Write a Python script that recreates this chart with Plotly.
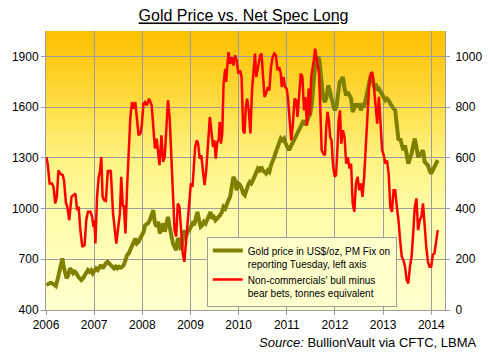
import plotly.graph_objects as go

# ---------------- data ----------------
gold_years = [
    2006.007, 2006.055, 2006.102, 2006.157, 2006.204, 2006.238, 2006.279, 2006.313, 2006.340, 2006.367,
    2006.394, 2006.428, 2006.462, 2006.496, 2006.530, 2006.564, 2006.598, 2006.632, 2006.666, 2006.700,
    2006.734, 2006.768, 2006.802, 2006.836, 2006.870, 2006.903, 2006.937, 2006.971, 2007.005, 2007.039,
    2007.073, 2007.107, 2007.141, 2007.175, 2007.209, 2007.243, 2007.277, 2007.311, 2007.345, 2007.379,
    2007.413, 2007.447, 2007.480, 2007.514, 2007.548, 2007.582, 2007.616, 2007.650, 2007.684, 2007.718,
    2007.752, 2007.786, 2007.820, 2007.854, 2007.888, 2007.922, 2007.955, 2007.990, 2008.024, 2008.058,
    2008.092, 2008.126, 2008.160, 2008.194, 2008.228, 2008.262, 2008.296, 2008.329, 2008.363, 2008.397,
    2008.431, 2008.465, 2008.499, 2008.533, 2008.567, 2008.601, 2008.635, 2008.669, 2008.703, 2008.737,
    2008.771, 2008.805, 2008.839, 2008.873, 2008.907, 2008.940, 2008.974, 2009.008, 2009.042, 2009.076,
    2009.110, 2009.144, 2009.178, 2009.212, 2009.246, 2009.280, 2009.314, 2009.348, 2009.382, 2009.416,
    2009.450, 2009.484, 2009.518, 2009.551, 2009.585, 2009.619, 2009.653, 2009.687, 2009.721, 2009.755,
    2009.789, 2009.823, 2009.857, 2009.891, 2009.925, 2009.959, 2009.993, 2010.027, 2010.061, 2010.095,
    2010.129, 2010.163, 2010.197, 2010.231, 2010.264, 2010.298, 2010.332, 2010.366, 2010.400, 2010.434,
    2010.468, 2010.502, 2010.536, 2010.570, 2010.604, 2010.638, 2010.672, 2010.706, 2010.740, 2010.774,
    2010.808, 2010.842, 2010.876, 2010.910, 2010.944, 2010.977, 2011.011, 2011.045, 2011.079, 2011.113,
    2011.147, 2011.181, 2011.215, 2011.249, 2011.283, 2011.317, 2011.351, 2011.385, 2011.419, 2011.453,
    2011.487, 2011.521, 2011.555, 2011.588, 2011.622, 2011.656, 2011.677, 2011.704, 2011.724, 2011.758,
    2011.792, 2011.826, 2011.860, 2011.894, 2011.928, 2011.962, 2011.996, 2012.030, 2012.064, 2012.097,
    2012.131, 2012.165, 2012.199, 2012.233, 2012.267, 2012.301, 2012.335, 2012.368, 2012.402, 2012.436,
    2012.470, 2012.504, 2012.538, 2012.572, 2012.606, 2012.640, 2012.674, 2012.708, 2012.742, 2012.776,
    2012.810, 2012.844, 2012.878, 2012.912, 2012.946, 2012.980, 2013.014, 2013.047, 2013.081, 2013.115,
    2013.149, 2013.183, 2013.217, 2013.251, 2013.285, 2013.319, 2013.353, 2013.387, 2013.421, 2013.455,
    2013.489, 2013.523, 2013.557, 2013.591, 2013.625, 2013.658, 2013.692, 2013.726, 2013.760, 2013.794,
    2013.828, 2013.862, 2013.896, 2013.930, 2013.964, 2013.998, 2014.032, 2014.066, 2014.100, 2014.134,
]
gold_usd = [
    548, 557, 561, 553, 542, 577, 636, 676, 705, 656,
    617, 587, 607, 646, 636, 617, 626, 617, 597, 587,
    577, 587, 607, 626, 636, 626, 636, 617, 636, 646,
    636, 656, 666, 646, 666, 676, 685, 676, 660, 656,
    646, 656, 646, 656, 650, 656, 666, 695, 725, 735,
    754, 774, 803, 823, 794, 803, 823, 840, 860, 900,
    905, 915, 935, 960, 990, 912, 893, 922, 853, 882,
    912, 863, 922, 951, 893, 833, 794, 774, 754, 823,
    813, 754, 813, 872, 833, 863, 872, 893, 912, 902,
    951, 980, 931, 893, 902, 922, 912, 931, 961, 980,
    941, 951, 931, 941, 951, 961, 980, 1010, 1000, 1030,
    1050, 1069, 1128, 1187, 1167, 1108, 1148, 1140, 1120, 1089,
    1079, 1118, 1138, 1157, 1148, 1168, 1187, 1217, 1236, 1226,
    1246, 1226, 1217, 1207, 1226, 1217, 1256, 1276, 1305, 1335,
    1364, 1394, 1414, 1404, 1414, 1384, 1364, 1345, 1364, 1384,
    1404, 1424, 1443, 1453, 1473, 1502, 1522, 1493, 1522, 1541,
    1561, 1620, 1739, 1837, 1876, 1896, 1876, 1778, 1699, 1650,
    1630, 1659, 1728, 1699, 1650, 1620, 1581, 1600, 1700, 1748,
    1758, 1778, 1709, 1669, 1689, 1669, 1650, 1571, 1591, 1620,
    1600, 1620, 1581, 1610, 1600, 1650, 1719, 1758, 1788, 1778,
    1719, 1739, 1699, 1709, 1689, 1679, 1650, 1640, 1650, 1640,
    1620, 1600, 1591, 1581, 1483, 1404, 1414, 1384, 1345, 1374,
    1305, 1266, 1296, 1325, 1374, 1414, 1364, 1305, 1315, 1335,
    1345, 1276, 1266, 1256, 1227, 1207, 1227, 1246, 1256, 1286,
]

spec_years = [
    2006.007, 2006.034, 2006.075, 2006.123, 2006.157, 2006.191, 2006.225, 2006.258, 2006.292, 2006.347,
    2006.374, 2006.415, 2006.442, 2006.483, 2006.530, 2006.578, 2006.612, 2006.645, 2006.679, 2006.713,
    2006.754, 2006.802, 2006.836, 2006.870, 2006.924, 2006.958, 2006.985, 2007.005, 2007.026, 2007.060,
    2007.094, 2007.121, 2007.148, 2007.175, 2007.209, 2007.243, 2007.284, 2007.311, 2007.345, 2007.392,
    2007.426, 2007.460, 2007.501, 2007.535, 2007.562, 2007.596, 2007.616, 2007.650, 2007.684, 2007.718,
    2007.752, 2007.786, 2007.820, 2007.854, 2007.888, 2007.922, 2007.962, 2007.990, 2008.024, 2008.058,
    2008.092, 2008.139, 2008.194, 2008.228, 2008.262, 2008.296, 2008.329, 2008.357, 2008.397, 2008.431,
    2008.465, 2008.499, 2008.533, 2008.567, 2008.601, 2008.635, 2008.669, 2008.703, 2008.737, 2008.771,
    2008.805, 2008.839, 2008.873, 2008.907, 2008.940, 2008.974, 2009.008, 2009.042, 2009.063, 2009.097,
    2009.131, 2009.158, 2009.192, 2009.226, 2009.260, 2009.293, 2009.327, 2009.361, 2009.402, 2009.436,
    2009.470, 2009.497, 2009.524, 2009.558, 2009.585, 2009.606, 2009.633, 2009.660, 2009.687, 2009.721,
    2009.742, 2009.769, 2009.789, 2009.823, 2009.857, 2009.891, 2009.925, 2009.959, 2009.993, 2010.027,
    2010.061, 2010.095, 2010.122, 2010.149, 2010.176, 2010.210, 2010.244, 2010.278, 2010.312, 2010.339,
    2010.366, 2010.394, 2010.421, 2010.448, 2010.475, 2010.502, 2010.536, 2010.570, 2010.604, 2010.638,
    2010.672, 2010.706, 2010.740, 2010.774, 2010.808, 2010.842, 2010.876, 2010.896, 2010.930, 2010.964,
    2010.998, 2011.025, 2011.059, 2011.093, 2011.127, 2011.161, 2011.195, 2011.222, 2011.256, 2011.290,
    2011.324, 2011.358, 2011.385, 2011.419, 2011.453, 2011.480, 2011.507, 2011.534, 2011.561, 2011.588,
    2011.616, 2011.643, 2011.670, 2011.697, 2011.724, 2011.758, 2011.792, 2011.819, 2011.846, 2011.873,
    2011.901, 2011.928, 2011.962, 2011.996, 2012.023, 2012.050, 2012.077, 2012.104, 2012.131, 2012.165,
    2012.199, 2012.233, 2012.267, 2012.301, 2012.335, 2012.368, 2012.402, 2012.436, 2012.470, 2012.504,
    2012.538, 2012.572, 2012.606, 2012.640, 2012.674, 2012.708, 2012.742, 2012.776, 2012.810, 2012.844,
    2012.878, 2012.912, 2012.946, 2012.980, 2013.014, 2013.047, 2013.081, 2013.115, 2013.149, 2013.183,
    2013.217, 2013.251, 2013.285, 2013.319, 2013.353, 2013.387, 2013.421, 2013.455, 2013.489, 2013.523,
    2013.557, 2013.591, 2013.625, 2013.658, 2013.692, 2013.726, 2013.760, 2013.794, 2013.828, 2013.862,
    2013.896, 2013.930, 2013.964, 2013.998, 2014.032, 2014.066, 2014.100, 2014.134,
]
spec_tonnes = [
    603, 577, 499, 499, 485, 420, 446, 551, 538, 532,
    512, 420, 407, 354, 446, 453, 459, 394, 407, 315,
    249, 256, 354, 387, 387, 367, 328, 354, 262, 446,
    525, 545, 603, 446, 433, 430, 551, 545, 551, 381,
    315, 262, 328, 381, 525, 407, 413, 302, 485, 617,
    761, 820, 794, 820, 748, 689, 696, 730, 814, 820,
    807, 833, 807, 735, 637, 676, 630, 571, 689, 584,
    603, 741, 827, 761, 630, 459, 315, 289, 420, 407,
    302, 223, 190, 276, 354, 446, 499, 485, 564, 643,
    669, 656, 597, 610, 545, 492, 551, 643, 761, 702,
    643, 669, 597, 663, 669, 741, 656, 696, 892, 951,
    899, 971, 1017, 971, 997, 964, 1004, 984, 932, 945,
    919, 709, 696, 800, 833, 787, 696, 866, 932, 1011,
    919, 945, 971, 1004, 1011, 932, 840, 853, 879, 866,
    958, 997, 1011, 1004, 945, 958, 932, 879, 919, 879,
    873, 833, 748, 669, 735, 833, 827, 761, 846, 932,
    919, 787, 840, 728, 873, 768, 919, 945, 984, 1030,
    997, 958, 932, 787, 630, 617, 610, 722, 781, 748,
    682, 669, 564, 525, 532, 630, 748, 787, 656, 709,
    682, 577, 603, 558, 577, 420, 387, 499, 525, 472,
    499, 446, 525, 643, 774, 879, 932, 938, 879, 800,
    735, 840, 722, 630, 610, 577, 590, 538, 407, 387,
    472, 472, 407, 354, 276, 210, 197, 171, 118, 105,
    171, 210, 302, 407, 440, 315, 354, 367, 420, 328,
    249, 190, 171, 171, 217, 223, 276, 315,
]

year_ticks = [2006, 2007, 2008, 2009, 2010, 2011, 2012, 2013, 2014]
gold_ticks = [400, 700, 1000, 1300, 1600, 1900]
spec_ticks = [0, 200, 400, 600, 800, 1000]

gold_name = "Gold price in US$/oz, PM Fix on<br>reporting Tuesday, left axis"
spec_name = "Non-commercials' bull minus<br>bear bets, tonnes equivalent"

# ---------------- styling ----------------
FONT = "Liberation Sans, Arial, sans-serif"
GRID = "#9c9c9c"

fig = go.Figure()
fig.add_trace(go.Scatter(x=gold_years, y=gold_usd, mode="lines", name=gold_name,
                         line=dict(color="#808000", width=4), yaxis="y"))
fig.add_trace(go.Scatter(x=spec_years, y=spec_tonnes, mode="lines", name=spec_name,
                         line=dict(color="#ff0000", width=2.5), yaxis="y2"))

# vertical gradient background for the plot area (drawn as thin bands below grid)
stops = [(0.0, (255, 192, 0)), (0.09, (255, 200, 20)), (0.27, (255, 222, 70)),
         (0.45, (255, 242, 130)), (0.63, (255, 251, 165)), (0.82, (255, 255, 190)),
         (1.0, (255, 255, 205))]

def grad(t):
    for (t0, c0), (t1, c1) in zip(stops[:-1], stops[1:]):
        if t0 <= t <= t1:
            f = (t - t0) / (t1 - t0)
            return "rgb(%d,%d,%d)" % tuple(round(a + (b - a) * f) for a, b in zip(c0, c1))
    return "rgb(%d,%d,%d)" % stops[-1][1]

nb = 120
shapes = []
for i in range(nb):
    t = (i + 0.5) / nb  # fraction from top
    shapes.append(dict(type="rect", xref="x domain", yref="y domain",
                       x0=0, x1=1, y0=1 - (i + 1) / nb - 0.002, y1=1 - i / nb,
                       fillcolor=grad(t), line=dict(width=0), layer="below"))

fig.update_layout(
    width=494, height=352,
    margin=dict(l=46, r=41, t=31, b=42),
    paper_bgcolor="white", plot_bgcolor="#ffe680",
    shapes=shapes,
    font=dict(family=FONT, size=12, color="#000000"),
    title=dict(text="<u>Gold Price vs. Net Spec Long</u>", x=0.493, xanchor="center",
               y=0.955, yanchor="middle", yref="container",
               font=dict(family=FONT, size=16, color="#000000")),
    xaxis=dict(range=[2006, 2014.285], tickvals=year_ticks,
               ticktext=[str(v) for v in year_ticks],
               showgrid=True, gridcolor=GRID, gridwidth=1,
               showline=True, linecolor=GRID, linewidth=1,
               ticks="outside", ticklen=4, tickcolor=GRID,
               zeroline=False, tickfont=dict(size=12, family=FONT, color="#000")),
    yaxis=dict(range=[400, 2050], tickvals=gold_ticks,
               showgrid=True, gridcolor=GRID, gridwidth=1,
               showline=True, linecolor=GRID, linewidth=1,
               ticks="outside", ticklen=4, tickcolor=GRID,
               zeroline=False, tickfont=dict(size=12, family=FONT, color="#000")),
    yaxis2=dict(range=[0, 1100], tickvals=spec_ticks, overlaying="y", side="right",
                showgrid=False, showline=True, linecolor=GRID, linewidth=1,
                ticks="outside", ticklen=4, tickcolor=GRID, ticklabelstandoff=3,
                zeroline=False, tickfont=dict(size=12, family=FONT, color="#000")),
    legend=dict(x=0.403, y=0.263, xanchor="left", yanchor="top",
                bgcolor="#ffffcc", bordercolor="#9c9c9c", borderwidth=1,
                font=dict(family=FONT, size=10, color="#000"),
                valign="top", itemwidth=30, tracegroupgap=0),
    showlegend=True,
    hovermode=False,
    annotations=[dict(text="<i>Source:</i> BullionVault via CFTC, LBMA",
                      xref="paper", yref="paper", x=1.086, y=-0.118,
                      xanchor="right", yanchor="middle", showarrow=False,
                      font=dict(family=FONT, size=13, color="#000"))],
)

fig.write_html("out.html", config={"displayModeBar": False})
